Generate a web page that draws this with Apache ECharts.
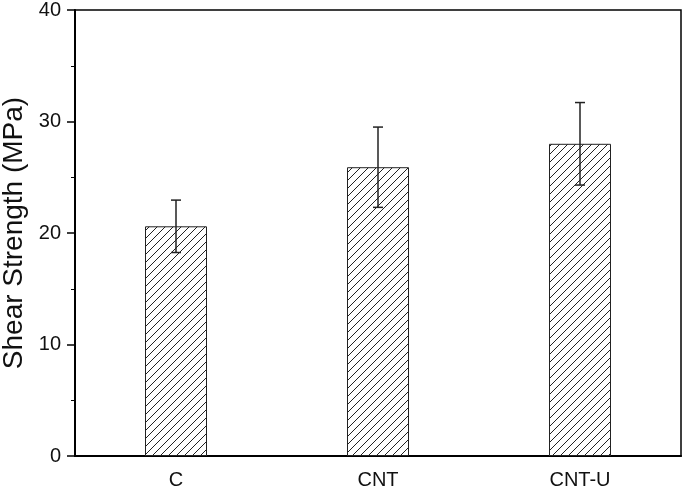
<!DOCTYPE html>
<html>
<head>
<meta charset="utf-8">
<script src="https://cdn.jsdelivr.net/npm/echarts@6/dist/echarts.min.js"></script>
<style>
  html, body { margin: 0; padding: 0; background: #fff; }
  #chart { width: 685px; height: 490px; }
</style>
</head>
<body>
<div id="chart"></div>
<script>
// data
let categories = ['C', 'CNT', 'CNT-U']
let strength = [20.6, 25.9, 28.0]
let errors = [2.35, 3.6, 3.7]

// hatch pattern
let makeHatch = function () {
  let size = 8
  let cv = document.createElement('canvas')
  cv.width = size
  cv.height = size
  let ctx = cv.getContext('2d')
  ctx.fillStyle = '#fff'
  ctx.fillRect(0, 0, size, size)
  ctx.strokeStyle = '#222'
  ctx.lineWidth = 1
  ctx.beginPath()
  ctx.moveTo(-1, size + 1)
  ctx.lineTo(size + 1, -1)
  ctx.moveTo(-2, 2)
  ctx.lineTo(2, -2)
  ctx.moveTo(size - 2, size + 2)
  ctx.lineTo(size + 2, size - 2)
  ctx.stroke()
  return cv
}

let errData = strength.map((v, i) => [i, v - errors[i], v + errors[i]])

let el = document.querySelector('#chart')
let chart = echarts.init(el)

let font = 'Liberation Sans, Arial, sans-serif'

chart.setOption({
  animation: false,
  grid: {
    left: 75, top: 10, right: 4, bottom: 34,
    show: true, borderColor: '#000', borderWidth: 1.5,
    containLabel: false,
    outerBoundsMode: 'none'
  },
  xAxis: {
    type: 'category',
    data: categories,
    axisLine: { lineStyle: { color: '#000', width: 2 } },
    axisTick: { alignWithLabel: true, length: 8, lineStyle: { color: '#000', width: 1.5 } },
    axisLabel: { color: '#111', fontSize: 20, fontFamily: font, margin: 14 }
  },
  yAxis: {
    type: 'value',
    min: 0,
    max: 40,
    interval: 10,
    name: 'Shear Strength (MPa)',
    nameLocation: 'middle',
    nameGap: 46,
    nameTextStyle: { color: '#111', fontSize: 28, fontFamily: font },
    splitLine: { show: false },
    axisLine: { show: true, lineStyle: { color: '#000', width: 2 } },
    axisTick: { show: true, length: 8, lineStyle: { color: '#000', width: 1.5 } },
    minorTick: { show: true, splitNumber: 2, length: 4, lineStyle: { color: '#000', width: 1 } },
    axisLabel: { color: '#111', fontSize: 20, fontFamily: font, margin: 14 }
  },
  series: [
    {
      type: 'bar',
      data: strength,
      barWidth: 62,
      itemStyle: {
        color: { image: makeHatch(), repeat: 'repeat' },
        borderColor: '#222',
        borderWidth: 1
      }
    },
    {
      type: 'custom',
      data: errData,
      z: 10,
      renderItem: function (params, api) {
        let x = api.value(0)
        let lo = api.coord([x, api.value(1)])
        let hi = api.coord([x, api.value(2)])
        let cap = 5
        let style = { stroke: '#222', lineWidth: 1.5 }
        return {
          type: 'group',
          children: [
            { type: 'line', shape: { x1: hi[0], y1: hi[1], x2: lo[0], y2: lo[1] }, style: style },
            { type: 'line', shape: { x1: hi[0] - cap, y1: hi[1], x2: hi[0] + cap, y2: hi[1] }, style: style },
            { type: 'line', shape: { x1: lo[0] - cap, y1: lo[1], x2: lo[0] + cap, y2: lo[1] }, style: style }
          ]
        }
      }
    }
  ]
})
</script>
</body>
</html>
